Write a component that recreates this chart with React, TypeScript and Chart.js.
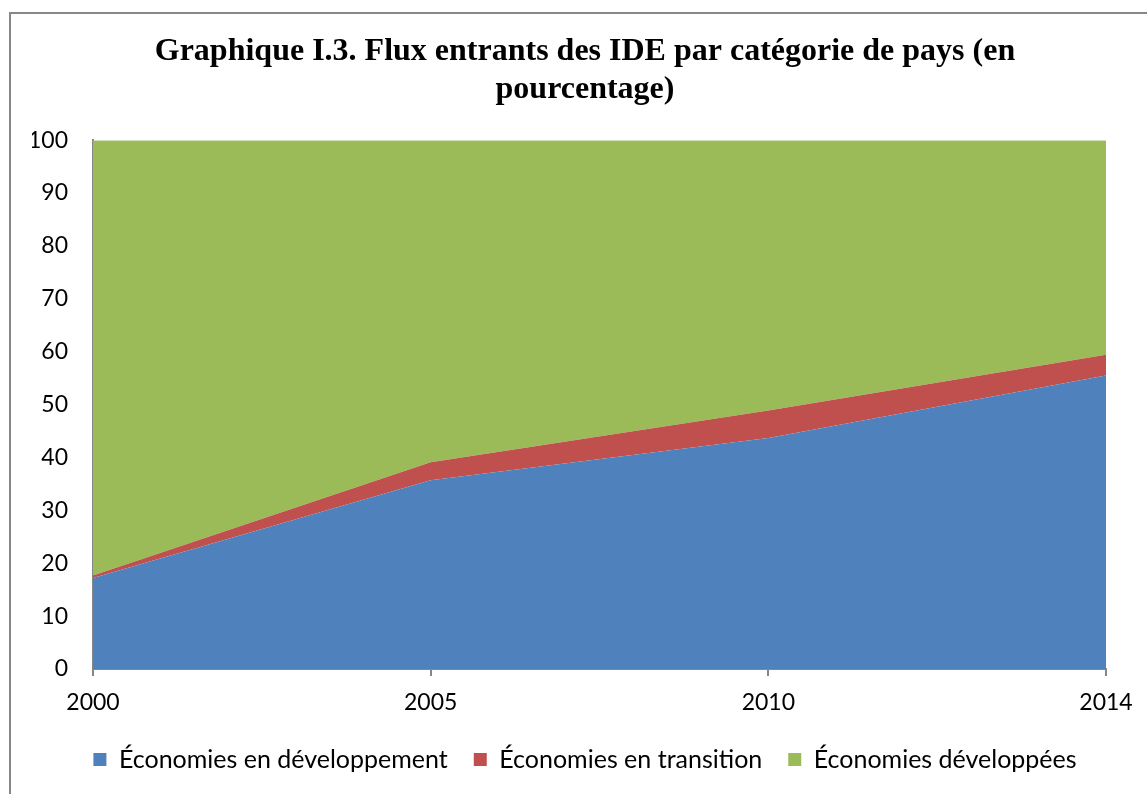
import React, { useEffect, useRef } from "react";
import { Chart, registerables } from "chart.js";

Chart.register(...registerables);

const years = ["2000", "2005", "2010", "2014"];
const developing = [17.2, 35.7, 43.7, 55.5];
const transition = [0.5, 3.4, 5.2, 3.9];
const developed = [82.3, 60.9, 51.1, 40.6];
const seriesNames = [
  "Économies en développement",
  "Économies en transition",
  "Économies développées",
];
const seriesColors = ["#4F81BD", "#C0504D", "#9BBB59"];
const titleLines = [
  "Graphique I.3. Flux entrants des IDE par catégorie de pays (en",
  "pourcentage)",
];

const AXIS_GRAY = "#878787";

export default function App() {
  const canvasRef = useRef<HTMLCanvasElement | null>(null);

  useEffect(() => {
    const canvas = canvasRef.current;
    if (!canvas) return;
    const values = [developing, transition, developed];
    const chart = new Chart(canvas, {
      type: "line",
      data: {
        labels: years,
        datasets: values.map((v, i) => ({
          label: seriesNames[i],
          data: v,
          backgroundColor: seriesColors[i],
          borderColor: "rgba(0,0,0,0)",
          borderWidth: 0,
          pointRadius: 0,
          pointHoverRadius: 0,
          tension: 0,
          fill: i === 0 ? "origin" : "-1",
        })),
      },
      options: {
        responsive: false,
        animation: false,
        events: [],
        layout: { padding: { left: 32, right: 9, top: 0, bottom: 12 } },
        font: { family: "Lato" },
        plugins: {
          title: {
            display: true,
            text: titleLines,
            color: "#000",
            font: { family: "Liberation Serif", size: 32, weight: "bold", lineHeight: 1.19 },
            padding: { top: 33, bottom: 31 },
          },
          legend: {
            display: true,
            position: "bottom",
            labels: {
              color: "#000",
              font: { family: "Lato", size: 25 },
              boxWidth: 13,
              boxHeight: 13,
              padding: 26,
            },
          },
          tooltip: { enabled: false },
        },
        scales: {
          x: {
            type: "category",
            offset: false,
            grid: {
              display: true,
              drawOnChartArea: false,
              drawTicks: true,
              tickLength: 7,
              color: AXIS_GRAY,
              lineWidth: 2,
            },
            border: { display: true, color: AXIS_GRAY, width: 2 },
            ticks: {
              color: "#000",
              font: { family: "Lato", size: 23 },
              padding: 13,
              maxRotation: 0,
              autoSkip: false,
            },
            afterFit: (s: any) => {
              s.height = 52;
            },
          },
          y: {
            stacked: true,
            min: 0,
            max: 100,
            grid: { display: false, drawTicks: false },
            border: { display: true, color: AXIS_GRAY, width: 2 },
            ticks: {
              stepSize: 10,
              color: "#000",
              font: { family: "Lato", size: 23 },
              padding: 25,
            },
            afterFit: (s: any) => {
              s.width = 61;
            },
          },
          yRight: {
            position: "right",
            display: true,
            grid: { display: false, drawTicks: false },
            border: { display: false },
            ticks: { display: false },
            afterFit: (s: any) => {
              s.width = 32;
            },
          },
        },
      },
    } as any);
    return () => chart.destroy();
  }, []);

  return (
    <div style={{ position: "absolute", left: 0, top: 0, width: 1147, height: 794, background: "#fff", overflow: "hidden" }}>
      <div
        style={{
          position: "absolute",
          left: 9,
          top: 12,
          width: 1200,
          height: 900,
          borderLeft: `2px solid ${AXIS_GRAY}`,
          borderTop: `2px solid ${AXIS_GRAY}`,
          boxSizing: "border-box",
        }}
      />
      <canvas ref={canvasRef} width={1147} height={794} style={{ position: "absolute", left: 0, top: 0 }} />
    </div>
  );
}
